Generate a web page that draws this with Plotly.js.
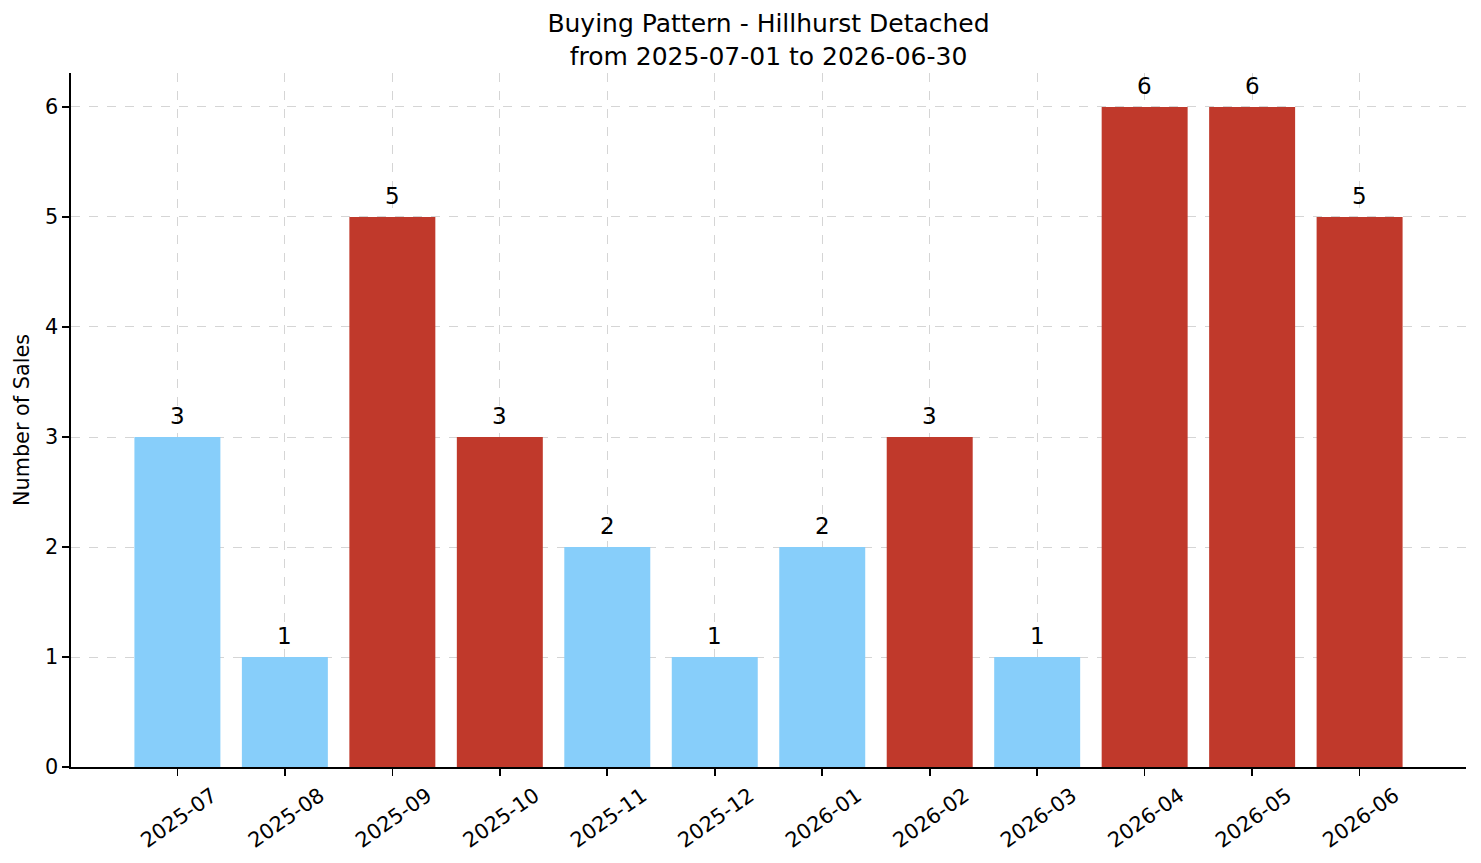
<!DOCTYPE html>
<html>
<head>
<meta charset="utf-8">
<script src="https://cdn.plot.ly/plotly-3.0.1.min.js"></script>
<style>html,body{margin:0;padding:0;background:#fff;}#chart{width:1481px;height:863px;}</style>
</head>
<body>
<div id="chart"></div>
<script>
const months = ["2025-07","2025-08","2025-09","2025-10","2025-11","2025-12","2026-01","2026-02","2026-03","2026-04","2026-05","2026-06"];
const sales = [3,1,5,3,2,1,2,3,1,6,6,5];
const barColors = ["#87CEFA","#87CEFA","#C0392B","#C0392B","#87CEFA","#87CEFA","#87CEFA","#C0392B","#87CEFA","#C0392B","#C0392B","#C0392B"];
const yTicks = [0,1,2,3,4,5,6];

const font = "DejaVu Sans, Verdana, sans-serif";

const trace = {
  type: "bar",
  x: months.map((m, i) => i),
  y: sales,
  width: 0.8,
  marker: {color: barColors, line: {width: 0}},
  hoverinfo: "x+y"
};

const labelAnn = sales.map((v, i) => ({
  x: i, y: v, xref: "x", yref: "y",
  text: String(v), showarrow: false,
  xanchor: "center", yanchor: "bottom", yshift: 6,
  font: {family: font, size: 23, color: "#000"}
}));

const gridColor = "rgba(185,185,185,0.6)";

const layout = {
  width: 1481, height: 863,
  paper_bgcolor: "#fff", plot_bgcolor: "#fff",
  margin: {l: 71, r: 15, t: 73, b: 96, pad: 0},
  showlegend: false,
  bargap: 0.2,
  font: {family: font, color: "#000", size: 20.8},
  title: {
    text: "Buying Pattern - Hillhurst Detached<br>from 2025-07-01 to 2026-06-30",
    font: {family: font, size: 25, color: "#000"},
    x: 0.5, xref: "paper", xanchor: "center",
    y: 1, yref: "paper", yanchor: "bottom",
    pad: {b: 41}
  },
  xaxis: {
    range: [-0.99, 11.99],
    tickmode: "array",
    tickvals: months.map((m, i) => i),
    ticktext: months,
    tickangle: -35,
    ticklabelshift: 35,
    ticks: "outside", ticklen: 7, tickwidth: 1.6, tickcolor: "#000",
    tickfont: {family: font, size: 20.8, color: "#000"},
    showline: true, linecolor: "#000", linewidth: 1.6,
    showgrid: true, gridcolor: gridColor, griddash: "dash", gridwidth: 1,
    zeroline: false, fixedrange: true,
    layer: "above traces"
  },
  yaxis: {
    range: [0, 6.309],
    tickmode: "array", tickvals: yTicks, ticktext: yTicks.map(String),
    ticks: "outside", ticklen: 7, tickwidth: 1.6, tickcolor: "#000",
    tickfont: {family: font, size: 20.8, color: "#000"},
    showline: true, linecolor: "#000", linewidth: 1.6,
    showgrid: true, gridcolor: gridColor, griddash: "dash", gridwidth: 1,
    zeroline: false, fixedrange: true,
    layer: "above traces",
    title: {text: "Number of Sales", font: {family: font, size: 20.8, color: "#000"}, standoff: 10}
  },
  annotations: labelAnn
};

Plotly.newPlot("chart", [trace], layout, {displayModeBar: false, staticPlot: true});
</script>
</body>
</html>
